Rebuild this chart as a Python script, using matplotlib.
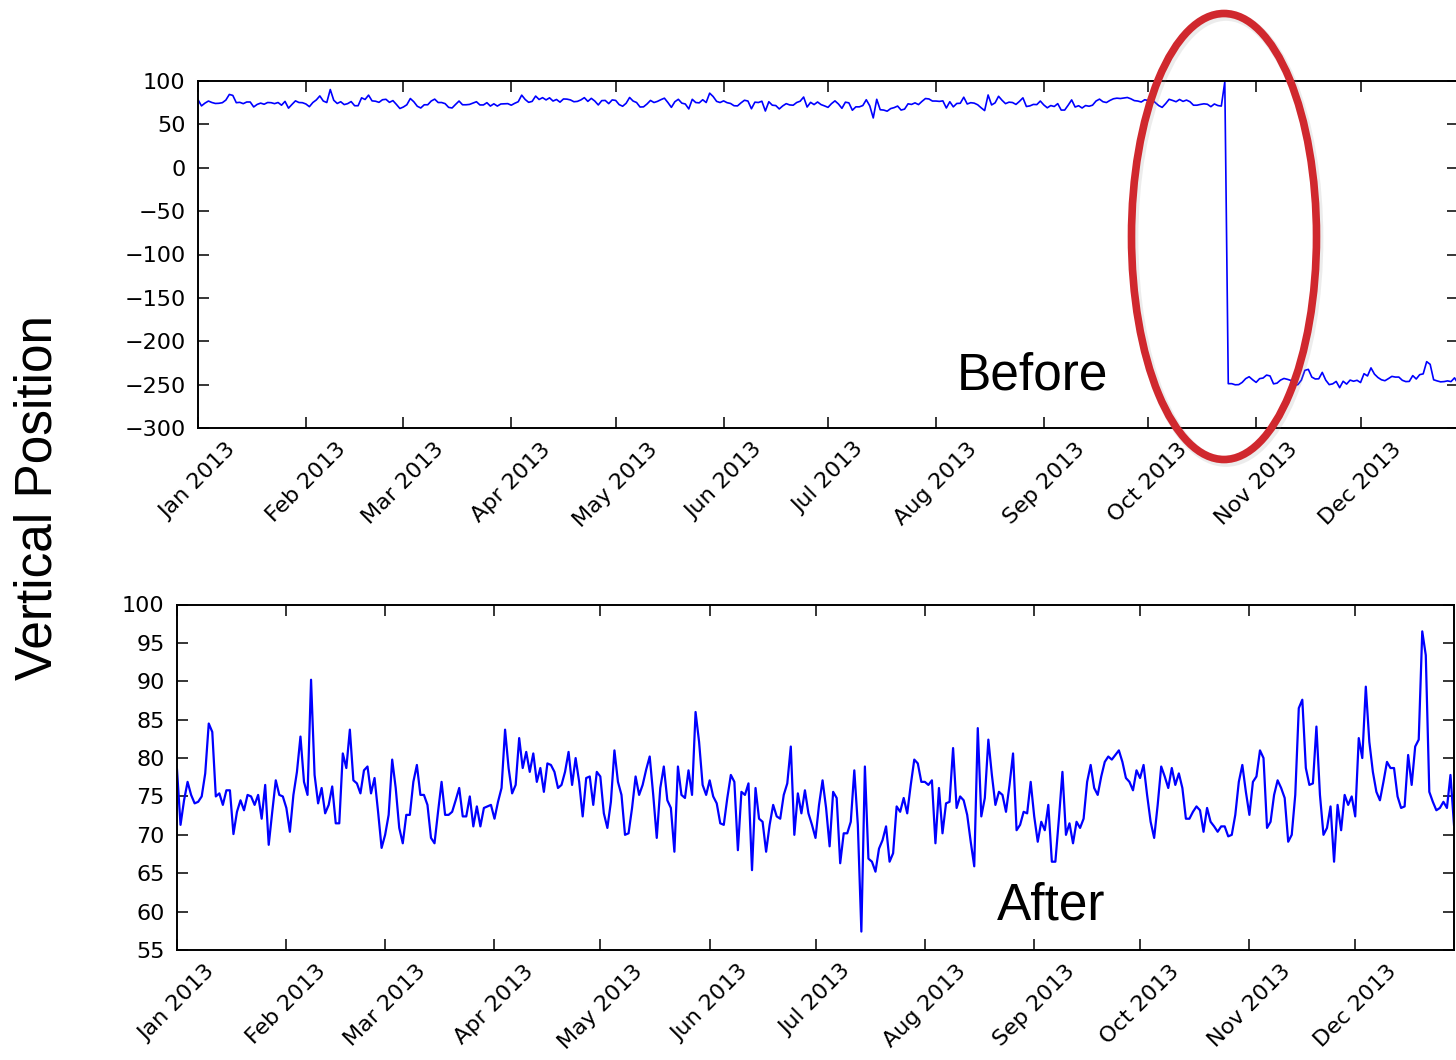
import numpy as np
import matplotlib
matplotlib.use("Agg")
import matplotlib.pyplot as plt
import matplotlib.dates as mdates
from matplotlib.patches import Ellipse

# daily vertical position, 2013 (corrected series, read month by month)
jan = [78.5, 71.3, 74.5, 76.9, 75.2, 74.1, 74.3, 75.0, 78.0, 84.5, 83.4, 75.0, 75.4, 73.9, 75.8, 75.8,
       70.1, 73.0, 74.5, 73.2, 75.2, 75.0, 73.9, 75.2, 72.1, 76.5, 68.7, 73.0, 77.1, 75.2, 75.0]
feb = [73.5, 70.4, 75.2, 78.2, 82.8, 76.9, 75.2, 90.2, 77.8, 74.1, 76.1, 72.8, 73.9, 76.3, 71.5, 71.5,
       80.6, 78.7, 83.7, 77.1, 76.7, 75.4, 78.4, 78.9, 75.4, 77.4, 73.0, 68.3]
mar = [70.0, 72.6, 79.8, 76.1, 70.9, 68.9, 72.6, 72.6, 76.9, 79.1, 75.2, 75.2, 73.9, 69.6, 68.9, 73.0,
       76.9, 72.6, 72.6, 73.0, 74.5, 76.1, 72.4, 72.4, 75.0, 71.1, 73.7, 71.1, 73.5, 73.7, 73.9]
apr = [72.1, 74.3, 76.1, 83.7, 78.7, 75.4, 76.5, 82.6, 78.7, 80.8, 78.2, 80.6, 76.9, 78.7, 75.6, 79.3,
       79.1, 78.2, 76.1, 76.5, 78.2, 80.8, 76.5, 80.0, 76.9, 72.4, 77.4, 77.6, 73.9, 78.2]
may = [77.6, 72.8, 70.9, 74.3, 81.0, 76.9, 75.2, 70.0, 70.2, 73.5, 77.6, 75.2, 76.5, 78.5, 80.2, 75.2,
       69.6, 76.1, 78.9, 74.5, 73.5, 67.8, 78.9, 75.2, 74.8, 78.4, 75.2, 86.0, 82.1, 76.5, 75.2]
jun = [77.1, 75.0, 74.1, 71.5, 71.3, 74.8, 77.8, 76.9, 68.0, 75.6, 75.2, 76.7, 65.4, 76.1, 72.1, 71.7,
       67.8, 71.3, 73.9, 72.4, 72.1, 75.2, 76.7, 81.5, 70.0, 75.4, 72.8, 75.8, 72.8, 71.3]
jul = [69.6, 73.9, 77.1, 73.5, 68.5, 75.6, 74.8, 66.3, 70.2, 70.2, 71.7, 78.4, 71.3, 57.4, 78.9, 66.9,
       66.5, 65.2, 68.2, 69.3, 71.1, 66.5, 67.6, 73.7, 73.0, 74.8, 72.8, 76.5, 79.8, 79.3, 76.9]
aug = [76.9, 76.5, 77.1, 68.9, 76.1, 70.2, 74.1, 74.3, 81.3, 73.5, 75.0, 74.5, 72.6, 69.1, 65.9, 83.9,
       72.4, 74.8, 82.4, 77.8, 73.9, 75.6, 75.2, 73.0, 76.5, 80.6, 70.6, 71.3, 73.0, 72.8, 76.9]
sep = [72.4, 69.1, 71.7, 70.6, 73.9, 66.5, 66.5, 72.1, 78.2, 70.0, 71.5, 68.9, 71.7, 70.9, 72.1, 76.9,
       79.1, 76.1, 75.2, 77.6, 79.5, 80.2, 79.8, 80.4, 81.0, 79.5, 77.4, 76.9, 75.8, 78.4]
oct_ = [77.4, 79.1, 75.2, 71.7, 69.6, 73.9, 78.9, 77.6, 76.1, 78.7, 76.5, 78.0, 76.1, 72.1, 72.1, 73.0,
        73.7, 73.2, 70.4, 73.5, 71.7, 71.1, 70.4, 71.1, 71.1, 69.8, 70.0, 72.6, 76.9, 79.1, 75.6]
nov = [72.6, 76.9, 77.6, 81.0, 80.0, 70.9, 71.7, 75.2, 77.1, 76.1, 74.8, 69.1, 70.0, 75.2, 86.5, 87.6,
       78.7, 76.5, 76.7, 84.1, 75.2, 70.0, 70.9, 73.7, 66.5, 73.9, 70.6, 75.2, 73.9, 75.0]
dec = [72.4, 82.6, 80.0, 89.3, 82.1, 78.2, 75.6, 74.5, 76.9, 79.5, 78.7, 78.7, 75.0, 73.5, 73.7, 80.4,
       76.5, 81.5, 82.4, 96.5, 93.4, 75.6, 74.3, 73.2, 73.5, 74.3, 73.5, 77.8, 71.3]

# raw series: one bad reading, then a sensor offset from late October on
spike_date = "2013-10-23"
spike_value = 99.0
jump_shift = -320.0

after = np.array(jan + feb + mar + apr + may + jun + jul + aug + sep + oct_ + nov + dec)
dates = np.arange(np.datetime64("2013-01-01"), np.datetime64("2013-01-01") + len(after))

spike_idx = int(np.where(dates == np.datetime64(spike_date))[0][0])
before = after.copy()
before[spike_idx] = spike_value
before[spike_idx + 1:] += jump_shift

W, H = 1456, 1060
fig = plt.figure(figsize=(W / 100, H / 100), dpi=100)
big_font = ["Liberation Sans", "DejaVu Sans"]


def style(ax, pad_y):
    ax.xaxis.set_major_locator(mdates.MonthLocator())
    ax.xaxis.set_major_formatter(mdates.DateFormatter("%b %Y"))
    ax.tick_params(direction="in", top=True, right=True, length=8, width=1.1,
                   labelsize=16, colors="black")
    ax.tick_params(axis="y", pad=pad_y)
    ax.tick_params(axis="x", pad=8)
    for lab in ax.get_xticklabels():
        lab.set_rotation(45)
        lab.set_ha("center")
    for sp in ax.spines.values():
        sp.set_linewidth(1.4)
    ax.set_xlim(dates[0], dates[-1])


# top: raw data
ax1 = fig.add_axes([198 / W, (H - 428) / H, (1458 - 198) / W, (428 - 81) / H])
ax1.plot(dates, before, color="b", lw=1.2)
ax1.set_ylim(-300, 100)
ax1.set_yticks(np.arange(-300, 101, 50))
style(ax1, 9)

# bottom: corrected data
ax2 = fig.add_axes([177 / W, (H - 950) / H, (1454 - 177) / W, (950 - 604.5) / H])
ax2.plot(dates, after, color="b", lw=1.6)
ax2.set_ylim(55, 100)
ax2.set_yticks(np.arange(55, 101, 5))
style(ax2, 9)

fig.text(38 / W, 1 - 497 / H, "Vertical Position", rotation=90, ha="center", va="center",
         fontsize=37, family=big_font)
fig.text(957 / W, 1 - 389 / H, "Before", ha="left", va="baseline", fontsize=37, family=big_font)
fig.text(997 / W, 1 - 920 / H, "After", ha="left", va="baseline", fontsize=37, family=big_font)

# red ellipse round the jump (with a faint shadow)
shadow = Ellipse((1226 / W, 1 - 239 / H), 185 / W, 446 / H, transform=fig.transFigure,
                 fill=False, edgecolor="#999999", lw=7, alpha=0.18, zorder=9)
ring = Ellipse((1224 / W, 1 - 236.5 / H), 185 / W, 446 / H, transform=fig.transFigure,
               fill=False, edgecolor="#d0282e", lw=5.5, zorder=10)
fig.add_artist(shadow)
fig.add_artist(ring)

fig.savefig("out.png", dpi=100, facecolor="white")
